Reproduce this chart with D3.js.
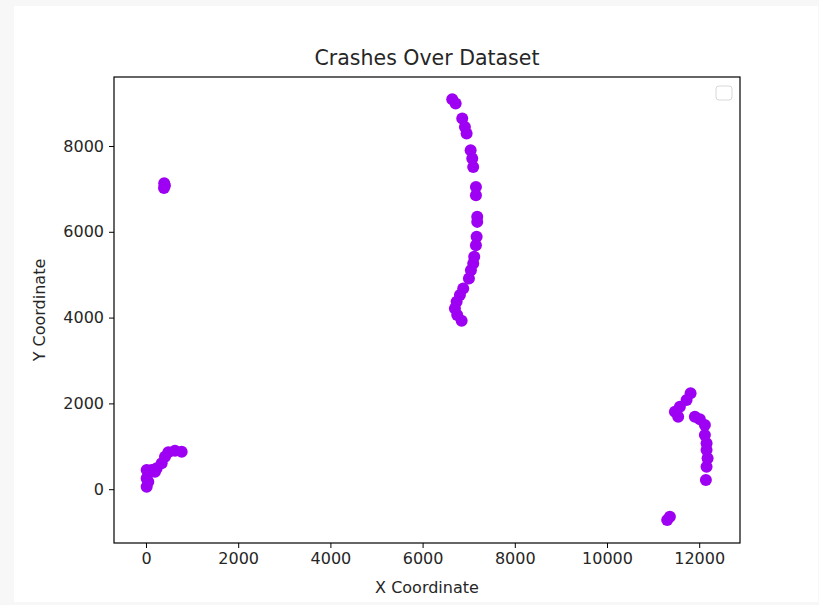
<!DOCTYPE html>
<html>
<head>
<meta charset="utf-8">
<script src="https://cdn.jsdelivr.net/npm/d3@7"></script>
<style>
  body { margin: 0; background: #f7f7f7; }
  svg { display: block; }
  text { font-family: "DejaVu Sans", sans-serif; fill: #262626; }
</style>
</head>
<body>
<svg id="chart" width="819" height="605"></svg>
<script>
// crash positions
const xVals = [
    // main arc
    6643, 6717, 6860, 6918, 6955, 7042, 7077, 7098, 7157, 7157, 7185, 7185,
    7172, 7157, 7120, 7098, 7048, 7005, 6881, 6810, 6738, 6701, 6751, 6847,
    // right cluster
    11813, 11726, 11581, 11473, 11544, 11906, 12015, 12123, 12123, 12160,
    12160, 12182, 12160, 12145, 11364, 11306,
    // bottom-left cluster
    774, 629, 484, 412, 340, 232, 124, 15, 15, 15, 50, 195,
    // top-left cluster
    395, 410, 390
]
const yVals = [
    9089, 8989, 8640, 8444, 8290, 7901, 7708, 7512, 7046, 6853, 6348, 6231,
    5882, 5688, 5416, 5262, 5106, 4913, 4680, 4524, 4368, 4214, 4058, 3925,
    2234, 2078, 1922, 1805, 1689, 1689, 1628, 1495, 1263, 1069,
    913, 720, 524, 214, -641, -717,
    874, 897, 860, 757, 603, 487, 447, 447, 254, 58, 175, 408,
    7130, 7080, 7020
]
const xTicks = [0, 2000, 4000, 6000, 8000, 10000, 12000]
const yTicks = [0, 2000, 4000, 6000, 8000]

const data = xVals.map((x, i) => ({ x: x, y: yVals[i] }))

const svg = d3.select('#chart')
const plotL = 114, plotR = 740, plotT = 77, plotB = 543
const purple = '#9d00f2'

svg.append('rect')
    .attr('x', 14).attr('y', 6)
    .attr('width', 804).attr('height', 596)
    .attr('fill', '#ffffff')

const xScale = d3.scaleLinear().domain([-694, 12885]).range([plotL, plotR])
const yScale = d3.scaleLinear().domain([-1254, 9608]).range([plotB, plotT])

const xAxis = d3.axisBottom(xScale).tickValues(xTicks).tickFormat(d3.format('d'))
    .tickSize(5).tickPadding(5)
const yAxis = d3.axisLeft(yScale).tickValues(yTicks).tickFormat(d3.format('d'))
    .tickSize(5).tickPadding(5)

svg.append('g')
    .attr('transform', 'translate(0,' + plotB + ')')
    .call(xAxis)
svg.append('g')
    .attr('transform', 'translate(' + plotL + ',0)')
    .call(yAxis)

svg.selectAll('.domain').remove()
svg.selectAll('.tick line').attr('stroke', '#000').attr('stroke-width', 1)
svg.selectAll('.tick text')
    .style('font-size', '16px')
    .style('font-family', '"DejaVu Sans", sans-serif')
    .attr('fill', '#262626')

svg.selectAll('circle.crash')
    .data(data)
    .enter()
    .append('circle')
    .attr('class', 'crash')
    .attr('r', 6)
    .attr('cx', d => xScale(d.x))
    .attr('cy', d => yScale(d.y))
    .style('fill', purple)

// axes frame
svg.append('rect')
    .attr('x', plotL).attr('y', plotT)
    .attr('width', plotR - plotL).attr('height', plotB - plotT)
    .attr('fill', 'none')
    .attr('stroke', '#000')
    .attr('stroke-width', 1.2)

// empty legend box
svg.append('rect')
    .attr('x', 716).attr('y', 86)
    .attr('width', 16).attr('height', 14)
    .attr('rx', 3)
    .attr('fill', '#fff')
    .attr('fill-opacity', 0.8)
    .attr('stroke', '#d8d8d8')

svg.append('text')
    .attr('x', (plotL + plotR) / 2).attr('y', 65)
    .attr('text-anchor', 'middle')
    .style('font-size', '20.5px')
    .text('Crashes Over Dataset')

svg.append('text')
    .attr('x', (plotL + plotR) / 2).attr('y', 593)
    .attr('text-anchor', 'middle')
    .style('font-size', '16px')
    .text('X Coordinate')

svg.append('text')
    .attr('transform', 'translate(45,' + (plotT + plotB) / 2 + ') rotate(-90)')
    .attr('text-anchor', 'middle')
    .style('font-size', '16px')
    .text('Y Coordinate')
</script>
</body>
</html>
